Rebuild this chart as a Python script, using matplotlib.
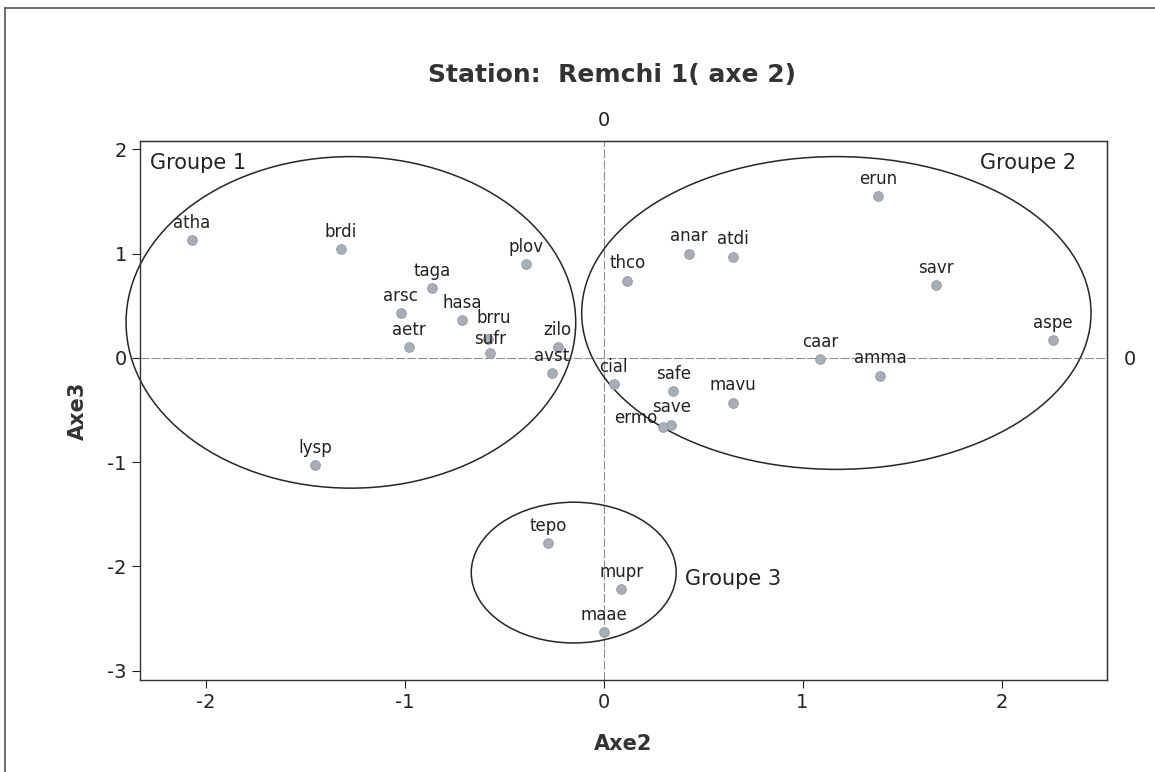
import numpy as np
import matplotlib
matplotlib.use("Agg")
import matplotlib.pyplot as plt
from matplotlib.patches import Ellipse
from matplotlib.lines import Line2D

plt.rcParams['axes.unicode_minus'] = False

# species codes and their coordinates on axes 2 and 3
names = ['atha', 'brdi', 'plov', 'taga', 'arsc', 'hasa', 'brru', 'sufr', 'aetr',
         'zilo', 'avst', 'lysp', 'tepo', 'mupr', 'maae', 'cial', 'safe', 'mavu',
         'save', 'ermo', 'erun', 'anar', 'atdi', 'thco', 'savr', 'aspe', 'caar', 'amma']
axe2 = [-2.07, -1.32, -0.39, -0.86, -1.02, -0.71, -0.58, -0.57, -0.98,
        -0.23, -0.26, -1.45, -0.28, 0.09, 0.00, 0.05, 0.35, 0.65,
        0.34, 0.30, 1.38, 0.43, 0.65, 0.12, 1.67, 2.26, 1.09, 1.39]
axe3 = [1.13, 1.04, 0.90, 0.67, 0.43, 0.36, 0.18, 0.05, 0.10,
        0.10, -0.15, -1.03, -1.78, -2.22, -2.63, -0.25, -0.32, -0.43,
        -0.64, -0.66, 1.55, 1.00, 0.97, 0.74, 0.70, 0.17, -0.01, -0.17]

# groups drawn as ellipses
groupes = ['Groupe 1', 'Groupe 2', 'Groupe 3']
g_cx = [-1.27, 1.17, -0.15]
g_cy = [0.34, 0.43, -2.06]
g_w = [2.26, 2.56, 1.03]
g_h = [3.18, 3.00, 1.35]

fig = plt.figure(figsize=(11.55, 7.72), dpi=100)
ax = fig.add_axes([0.1212, 0.1192, 0.8372, 0.6982])

# ref lines
ax.axhline(0, color='#909090', lw=0.8, ls=(0, (8, 2)), zorder=1)
ax.axvline(0, color='#909090', lw=0.8, ls=(0, (8, 2)), zorder=1)

for cx, cy, w, h in zip(g_cx, g_cy, g_w, g_h):
    e = Ellipse((cx, cy), w, h, fill=False, ec='#262626', lw=1.1, clip_on=False, zorder=2)
    ax.add_patch(e)

ax.plot(axe2, axe3, 'o', ms=7, mfc='#a8aeb6', mec='#939aa3', mew=0.6, zorder=3)

# a few labels nudged where points sit on top of each other
offsets = {'ermo': (-20, 0), 'brru': (4, 9), 'sufr': (0, 3)}
for n, x, y in zip(names, axe2, axe3):
    ax.annotate(n, (x, y), xytext=offsets.get(n, (0, 6)), textcoords='offset points',
                ha='center', va='bottom', fontsize=12, color='#222222', zorder=4)

ax.text(-2.28, 1.87, groupes[0], fontsize=15, va='center', ha='left', color='#222222')
ax.text(1.89, 1.87, groupes[1], fontsize=15, va='center', ha='left', color='#222222')
ax.text(0.41, -2.12, groupes[2], fontsize=15, va='center', ha='left', color='#222222')

ax.set_xlim(-2.33, 2.53)
ax.set_ylim(-3.09, 2.08)
ax.set_xticks([-2, -1, 0, 1, 2])
ax.set_yticks([-3, -2, -1, 0, 1, 2])
ax.tick_params(direction='out', length=6, labelsize=14, colors='#222222', width=0.8)
for s in ax.spines.values():
    s.set_color('#333333')
    s.set_linewidth(1.0)

# top and right reference ticks
top = ax.secondary_xaxis('top')
top.set_xticks([0])
top.tick_params(direction='in', length=0, labelsize=14, pad=8, colors='#222222')
right = ax.secondary_yaxis('right')
right.set_yticks([0])
right.tick_params(direction='in', length=0, labelsize=14, pad=12, colors='#222222')

ax.set_xlabel('Axe2', fontsize=15, fontweight='bold', color='#333333', labelpad=16)
ax.set_ylabel('Axe3', fontsize=15, fontweight='bold', color='#333333', labelpad=14)

fig.text(0.53, 1 - 75 / 772, 'Station:  Remchi 1( axe 2)', fontsize=18, fontweight='bold',
         ha='center', va='center', color='#333333')

# page border (top and left)
fig.add_artist(Line2D([5 / 1155, 1], [1 - 8 / 772, 1 - 8 / 772], transform=fig.transFigure,
                      color='#555555', lw=1.2))
fig.add_artist(Line2D([5 / 1155, 5 / 1155], [0, 1 - 8 / 772], transform=fig.transFigure,
                      color='#555555', lw=1.2))

fig.savefig('out.png', dpi=100)
